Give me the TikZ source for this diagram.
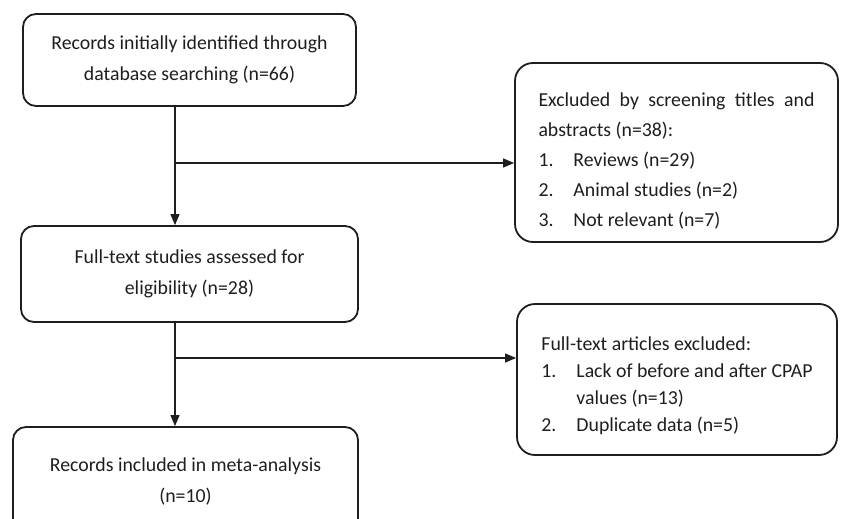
\documentclass[tikz,border=0pt]{standalone}
\usepackage{fontspec}
\setmainfont{Carlito}
\usetikzlibrary{arrows.meta}
\definecolor{ink}{HTML}{1E1E1E}
\newcommand{\itm}[1]{\makebox[35pt][l]{#1}}
\begin{document}
\begin{tikzpicture}[x=1pt,y=-1pt,
  box/.style={draw=ink,line width=1.8pt,rounded corners=13pt,inner sep=0pt,
    font=\fontsize{19.8}{31}\selectfont,text=ink},
  sidebox/.style={box,rounded corners=18pt},
  link/.style={draw=ink,line width=1.2pt},
  flow/.style={link,-{Triangle[length=11pt,width=9pt]}}]
\useasboundingbox (0,0) rectangle (843,519);
\clip (0,0) rectangle (843,519);
\node[box,align=center,minimum width=333pt,minimum height=92pt] (rec) at (189.5,60)
  {Records initially identified through\\database searching (n=66)};
\node[box,align=center,minimum width=337pt,minimum height=96pt] (full) at (189.5,274)
  {Full-text studies assessed for\\eligibility (n=28)};
\node[box,align=center,minimum width=345pt,minimum height=108pt] (incl) at (185.5,481)
  {Records included in meta-analysis\\(n=10)};
\node[sidebox,align=left,minimum width=323pt,minimum height=179pt,
  font=\fontsize{19.8}{30}\selectfont] (excl) at (676.5,152.5)
  {\rule{0pt}{30pt}\makebox[276pt][s]{Excluded by screening titles and}\\
   abstracts (n=38):\\
   \itm{1.}Reviews (n=29)\\
   \itm{2.}Animal studies (n=2)\\
   \itm{3.}Not relevant (n=7)};
\node[sidebox,align=left,minimum width=320pt,minimum height=151pt,
  font=\fontsize{19.8}{27}\selectfont] (artx) at (677,379.5)
  {\rule{0pt}{26pt}Full-text articles excluded:\\
   \itm{1.}Lack of before and after CPAP\\
   \itm{}values (n=13)\\
   \itm{2.}Duplicate data (n=5)};
\coordinate (j1) at (175,163);
\coordinate (j2) at (175,358);
\draw[flow] (rec.south -| j1) -- (full.north -| j1);
\draw[flow] (j1) -- (j1 -| excl.west);
\draw[flow] (full.south -| j2) -- (incl.north -| j2);
\draw[flow] (j2) -- (j2 -| artx.west);
\end{tikzpicture}
\end{document}
